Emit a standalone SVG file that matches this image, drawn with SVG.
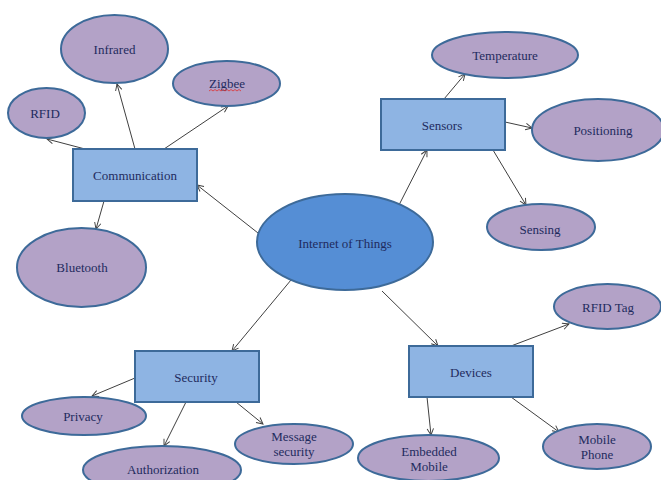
<svg xmlns="http://www.w3.org/2000/svg" width="661" height="480" viewBox="0 0 661 480">
<defs>
<marker id="arr" viewBox="0 0 10 10" refX="9" refY="5" markerWidth="8" markerHeight="8" markerUnits="userSpaceOnUse" orient="auto">
<path d="M1,1 L9,5 L1,9" fill="none" stroke="#404040" stroke-width="1.2"/>
</marker>
<style>
.leaf{fill:#B3A2C7;stroke:#3D6A99;stroke-width:2}
.box{fill:#8EB4E3;stroke:#3D6A99;stroke-width:2}
.hub{fill:#558ED5;stroke:#3D6A99;stroke-width:2}
.t{font-family:"Liberation Serif","Times New Roman",serif;font-size:13px;fill:#1F2B5E;text-anchor:middle;dominant-baseline:central}
.c line{stroke:#404040;stroke-width:1;marker-end:url(#arr)}
</style>
</defs>
<rect width="661" height="480" fill="#fff"/>
<g class="c" id="connectors">
<line x1="258" y1="233" x2="197" y2="185"/>
<line x1="135" y1="149" x2="117" y2="84"/>
<line x1="164" y1="149" x2="228" y2="106"/>
<line x1="85" y1="149" x2="47" y2="139"/>
<line x1="104" y1="201" x2="96" y2="229"/>
<line x1="399" y1="205" x2="427" y2="150"/>
<line x1="444" y1="99" x2="465" y2="74"/>
<line x1="505" y1="122" x2="532" y2="128"/>
<line x1="493" y1="150" x2="526" y2="205"/>
<line x1="291" y1="280" x2="232" y2="351"/>
<line x1="135" y1="378" x2="92" y2="396"/>
<line x1="186" y1="402" x2="164" y2="446"/>
<line x1="236" y1="402" x2="263" y2="424"/>
<line x1="382" y1="291" x2="438" y2="346"/>
<line x1="511" y1="346" x2="569" y2="324"/>
<line x1="427" y1="397" x2="431" y2="435"/>
<line x1="511" y1="397" x2="559" y2="432"/>
</g>
<g id="iot"><ellipse class="hub" cx="345" cy="242" rx="88" ry="48"/><text class="t" x="345" y="243">Internet of Things</text></g>
<g id="communication"><rect class="box" x="73" y="149" width="124" height="52"/><text class="t" x="135" y="175">Communication</text></g>
<g id="infrared"><ellipse class="leaf" cx="114.5" cy="49" rx="53.5" ry="34"/><text class="t" x="114.5" y="49">Infrared</text></g>
<g id="zigbee"><ellipse class="leaf" cx="226.5" cy="83.5" rx="53.5" ry="22.5"/><text class="t" x="227" y="83">Zigbee</text><path d="M209,91 l2,-1.5 l2,1.5 l2,-1.5 l2,1.5 l2,-1.5 l2,1.5 l2,-1.5 l2,1.5 l2,-1.5 l2,1.5 l2,-1.5 l2,1.5 l2,-1.5 l2,1.5 l2,-1.5 l2,1.5" fill="none" stroke="#E03030" stroke-width="0.8"/></g>
<g id="rfid"><ellipse class="leaf" cx="46.5" cy="113" rx="38.5" ry="25"/><text class="t" x="45" y="113">RFID</text></g>
<g id="bluetooth"><ellipse class="leaf" cx="81.5" cy="267.5" rx="64.5" ry="39.5"/><text class="t" x="82" y="267">Bluetooth</text></g>
<g id="sensors"><rect class="box" x="381" y="99" width="124" height="51"/><text class="t" x="442" y="125">Sensors</text></g>
<g id="temperature"><ellipse class="leaf" cx="505" cy="55" rx="73" ry="23"/><text class="t" x="505" y="55">Temperature</text></g>
<g id="positioning"><ellipse class="leaf" cx="598" cy="130" rx="66" ry="31"/><text class="t" x="603" y="130">Positioning</text></g>
<g id="sensing"><ellipse class="leaf" cx="541" cy="227" rx="54" ry="23"/><text class="t" x="540" y="229">Sensing</text></g>
<g id="security"><rect class="box" x="135" y="351" width="124" height="51"/><text class="t" x="196" y="377">Security</text></g>
<g id="privacy"><ellipse class="leaf" cx="84" cy="416" rx="62" ry="19"/><text class="t" x="83" y="416">Privacy</text></g>
<g id="authorization"><ellipse class="leaf" cx="162" cy="470" rx="79" ry="24"/><text class="t" x="163" y="469">Authorization</text></g>
<g id="message-security"><ellipse class="leaf" cx="294" cy="444" rx="59" ry="20"/><text class="t" x="294" y="436">Message</text><text class="t" x="294" y="451">security</text></g>
<g id="devices"><rect class="box" x="409" y="346" width="124" height="51"/><text class="t" x="471" y="372">Devices</text></g>
<g id="rfid-tag"><ellipse class="leaf" cx="607.5" cy="306.5" rx="53.5" ry="22.5"/><text class="t" x="608" y="307">RFID Tag</text></g>
<g id="embedded-mobile"><ellipse class="leaf" cx="428.5" cy="458" rx="70.5" ry="23"/><text class="t" x="429" y="451">Embedded</text><text class="t" x="429" y="466">Mobile</text></g>
<g id="mobile-phone"><ellipse class="leaf" cx="597" cy="446.5" rx="54" ry="22.5"/><text class="t" x="597" y="439">Mobile</text><text class="t" x="597" y="454">Phone</text></g>
</svg>
